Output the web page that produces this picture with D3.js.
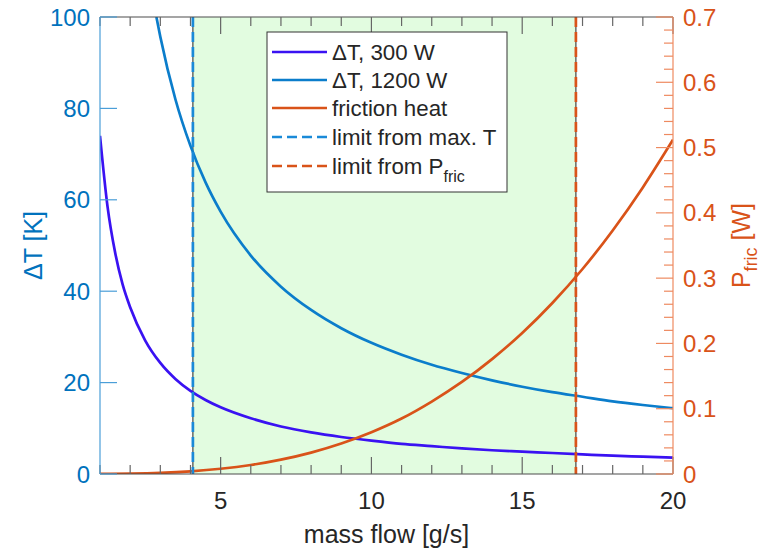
<!DOCTYPE html>
<html><head><meta charset="utf-8">
<script src="https://cdn.jsdelivr.net/npm/d3@7"></script>
<style>body{margin:0;background:#fff;}svg{display:block;font-family:"Liberation Sans",Arial,sans-serif;}</style>
</head><body>
<script>
// ---- data ----
const massFlow300 = [1, 1.25, 1.5, 1.75, 2, 2.5, 3, 3.5, 4, 4.5, 5, 6, 7, 8, 9, 10, 11, 12, 13, 14, 15, 16, 17, 18, 19, 20];
const dT300 = [74, 58.5, 48.5, 41.5, 36.5, 29.2, 24.3, 20.8, 18.2, 16.2, 14.6, 12.2, 10.4, 9.1, 8.1, 7.3, 6.6, 6.1, 5.6, 5.2, 4.9, 4.6, 4.3, 4.0, 3.8, 3.6];
const massFlow1200 = [2.87, 3, 3.5, 4, 4.5, 5, 6, 7, 8, 9, 10, 11, 12, 13, 14, 15, 16, 17, 18, 19, 20];
const dT1200 = [100, 95.7, 82, 71.8, 63.8, 57.4, 47.8, 41, 35.9, 31.9, 28.7, 26.1, 23.9, 22.1, 20.5, 19.1, 17.9, 16.9, 15.9, 15.1, 14.4];
const massFlowFric = [1, 2, 3, 4, 5, 6, 7, 8, 9, 10, 11, 12, 13, 14, 15, 16, 17, 18, 19, 20];
const pFric = [0.0001, 0.0005, 0.0017, 0.0041, 0.008, 0.0138, 0.022, 0.0328, 0.0467, 0.064, 0.085, 0.111, 0.141, 0.176, 0.216, 0.262, 0.314, 0.373, 0.439, 0.512];
const limitMaxT = 4.08;
const limitPfric = 16.78;
const xTicks = [5, 10, 15, 20];
const yLeftTicks = [0, 20, 40, 60, 80, 100];
const yRightTicks = [0, 0.1, 0.2, 0.3, 0.4, 0.5, 0.6, 0.7];
const legendLabels = ["ΔT, 300 W", "ΔT, 1200 W", "friction heat", "limit from max. T", "limit from P"];

// ---- layout ----
const W = 762, H = 552;
const L = 100, R = 673, T = 17, B = 474;
const cBlue = "#0072BD", cOrange = "#D95319", cPurple = "#3a12f2", cBlueL = "#0b7dcb", cDashB = "#1a8ad8";

const x = d3.scaleLinear().domain([1, 20]).range([L, R]);
const yL = d3.scaleLinear().domain([0, 100]).range([B, T]);
const yR = d3.scaleLinear().domain([0, 0.7]).range([B, T]);

const svg = d3.select("body").append("svg").attr("width", W).attr("height", H);
svg.append("defs").append("clipPath").attr("id", "clip")
  .append("rect").attr("x", L).attr("y", T).attr("width", R - L).attr("height", B - T);

const plot = svg.append("g").attr("clip-path", "url(#clip)");

// shaded region
plot.append("rect").attr("x", x(limitMaxT)).attr("y", T)
  .attr("width", x(limitPfric) - x(limitMaxT)).attr("height", B - T)
  .attr("fill", "#e2fce0");
[limitMaxT, limitPfric].forEach(v => {
  plot.append("line").attr("x1", x(v)).attr("x2", x(v)).attr("y1", T).attr("y2", B)
    .attr("stroke", "#444").attr("stroke-width", 1.2);
});

const lineL = (xs, ys) => d3.line().curve(d3.curveMonotoneX)(xs.map((m, i) => [x(m), yL(ys[i])]));
const lineR = (xs, ys) => d3.line().curve(d3.curveMonotoneX)(xs.map((m, i) => [x(m), yR(ys[i])]));

plot.append("path").attr("d", lineL(massFlow300, dT300)).attr("fill", "none").attr("stroke", cPurple).attr("stroke-width", 2.7);
plot.append("path").attr("d", lineL(massFlow1200, dT1200)).attr("fill", "none").attr("stroke", cBlueL).attr("stroke-width", 2.7);
plot.append("path").attr("d", lineR(massFlowFric, pFric)).attr("fill", "none").attr("stroke", cOrange).attr("stroke-width", 2.7);

plot.append("line").attr("x1", x(limitMaxT)).attr("x2", x(limitMaxT)).attr("y1", T).attr("y2", B)
  .attr("stroke", cDashB).attr("stroke-width", 2.7).attr("stroke-dasharray", "10,5");
plot.append("line").attr("x1", x(limitPfric)).attr("x2", x(limitPfric)).attr("y1", T).attr("y2", B)
  .attr("stroke", cOrange).attr("stroke-width", 2.7).attr("stroke-dasharray", "10,5");

// ---- axes ----
const minorX = d3.range(1, 21, 1).filter(v => !xTicks.includes(v));
const ax = svg.append("g");
ax.append("line").attr("x1", L).attr("x2", R).attr("y1", B).attr("y2", B).attr("stroke", "#4d4d4d").attr("stroke-width", 1.2);
ax.append("line").attr("x1", L).attr("x2", R).attr("y1", T).attr("y2", T).attr("stroke", "#4d4d4d").attr("stroke-width", 1.2);
xTicks.forEach(v => {
  ax.append("line").attr("x1", x(v)).attr("x2", x(v)).attr("y1", B).attr("y2", B - 17).attr("stroke", "#666").attr("stroke-width", 1.2);
  ax.append("line").attr("x1", x(v)).attr("x2", x(v)).attr("y1", T).attr("y2", T + 17).attr("stroke", "#666").attr("stroke-width", 1.2);
});
minorX.forEach(v => {
  ax.append("line").attr("x1", x(v)).attr("x2", x(v)).attr("y1", B).attr("y2", B - 9).attr("stroke", "#666").attr("stroke-width", 1.2);
  ax.append("line").attr("x1", x(v)).attr("x2", x(v)).attr("y1", T).attr("y2", T + 9).attr("stroke", "#666").attr("stroke-width", 1.2);
});
ax.selectAll(".xl").data(xTicks).enter().append("text")
  .attr("x", d => x(d)).attr("y", 509).attr("text-anchor", "middle")
  .attr("font-size", 24).attr("fill", "#262626").text(d => d);
ax.append("text").attr("x", (L + R) / 2).attr("y", 543).attr("text-anchor", "middle")
  .attr("font-size", 25).attr("fill", "#262626").text("mass flow [g/s]");

// left axis
ax.append("line").attr("x1", L).attr("x2", L).attr("y1", T).attr("y2", B).attr("stroke", "#4a9ed8").attr("stroke-width", 1.2);
yLeftTicks.forEach(v => {
  ax.append("line").attr("x1", L).attr("x2", L + 17).attr("y1", yL(v)).attr("y2", yL(v)).attr("stroke", "#4a9ed8").attr("stroke-width", 1.2);
});
ax.selectAll(".yl").data(yLeftTicks).enter().append("text")
  .attr("x", 90).attr("y", d => yL(d) + 8.5).attr("text-anchor", "end")
  .attr("font-size", 24).attr("fill", cBlue).text(d => d);
ax.append("text").attr("transform", `translate(42,${(T + B) / 2}) rotate(-90)`).attr("text-anchor", "middle")
  .attr("font-size", 25).attr("fill", cBlue).text("ΔT [K]");

// right axis
const minorR = d3.range(0, 71, 2).map(v => v / 100).filter(v => Math.round(v * 100) % 10 !== 0);
ax.append("line").attr("x1", R).attr("x2", R).attr("y1", T).attr("y2", B).attr("stroke", "#ee8a60").attr("stroke-width", 1.2);
yRightTicks.forEach(v => {
  ax.append("line").attr("x1", R).attr("x2", R - 17).attr("y1", yR(v)).attr("y2", yR(v)).attr("stroke", "#ee8a60").attr("stroke-width", 1.2);
});
minorR.forEach(v => {
  ax.append("line").attr("x1", R).attr("x2", R - 9).attr("y1", yR(v)).attr("y2", yR(v)).attr("stroke", "#ee8a60").attr("stroke-width", 1.2);
});
ax.selectAll(".yr").data(yRightTicks).enter().append("text")
  .attr("x", 683).attr("y", d => yR(d) + 8.5).attr("text-anchor", "start")
  .attr("font-size", 24).attr("fill", cOrange).text(d => d === 0 ? "0" : d.toFixed(1));
const rl = ax.append("text").attr("transform", `translate(750,${(T + B) / 2}) rotate(-90)`).attr("text-anchor", "middle")
  .attr("font-size", 25).attr("fill", cOrange);
rl.append("tspan").text("P");
rl.append("tspan").attr("font-size", 18).attr("dy", 7).text("fric");
rl.append("tspan").attr("dy", -7).text(" [W]");

// ---- legend ----
const lg = svg.append("g");
lg.append("rect").attr("x", 267).attr("y", 32).attr("width", 240).attr("height", 160)
  .attr("fill", "#fff").attr("stroke", "#333").attr("stroke-width", 1);
const legendStyles = [
  {c: cPurple, dash: null}, {c: cBlueL, dash: null}, {c: cOrange, dash: null},
  {c: cDashB, dash: "10,5"}, {c: cOrange, dash: "10,5"}
];
const rowY = [52, 80, 108, 137, 166];
legendLabels.forEach((lab, i) => {
  const ln = lg.append("line").attr("x1", 272).attr("x2", 327).attr("y1", rowY[i]).attr("y2", rowY[i])
    .attr("stroke", legendStyles[i].c).attr("stroke-width", 2.7);
  if (legendStyles[i].dash) ln.attr("stroke-dasharray", legendStyles[i].dash);
  const t = lg.append("text").attr("x", 332).attr("y", rowY[i] + 8).attr("font-size", 22.3).attr("fill", "#262626").text(lab);
  if (i === 4) t.append("tspan").attr("font-size", 16).attr("dy", 8).text("fric");
});
</script>
</body></html>
